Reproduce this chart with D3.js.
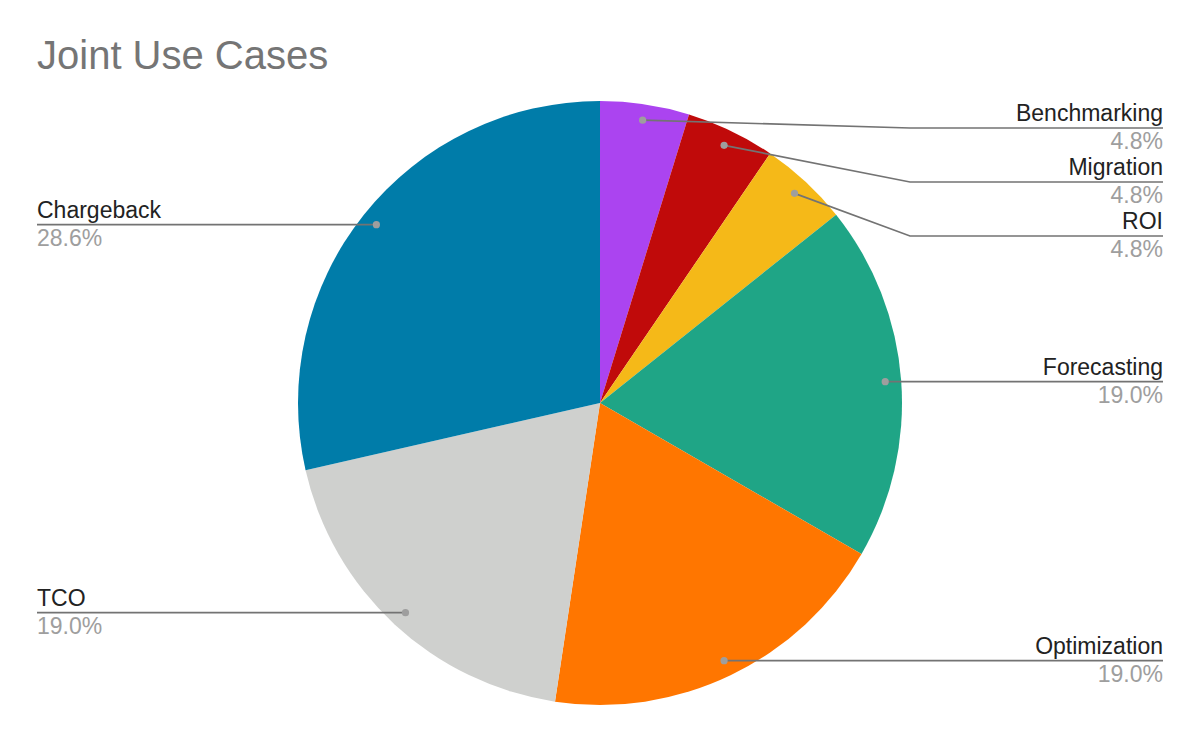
<!DOCTYPE html>
<html><head><meta charset="utf-8">
<script src="https://cdn.jsdelivr.net/npm/d3@7"></script>
<style>html,body{margin:0;padding:0;background:#fff;}svg{display:block;font-family:"Liberation Sans",Arial,sans-serif;}</style>
</head><body>
<svg id="chart" width="1200" height="742"></svg>
<script>
const title = "Joint Use Cases";
const categories = ["Benchmarking","Migration","ROI","Forecasting","Optimization","TCO","Chargeback"];
const values = [1,1,1,4,4,4,6];
const colors = ["#ab44f0","#c00a0a","#f5b918","#1fa586","#ff7600","#cfd0ce","#007ca9"];

const W = 1200, H = 742;
const cx = 600, cy = 403, R = 302;
const svg = d3.select("#chart");

svg.append("text").attr("x", 37).attr("y", 69)
  .attr("font-size", 40).attr("fill", "#757575").text(title);

const data = categories.map((c,i)=>({name:c, value:values[i], color:colors[i]}));
const total = d3.sum(values);
const pie = d3.pie().value(d=>d.value).sort(null);
const arcs = pie(data);
const arc = d3.arc().innerRadius(0).outerRadius(R);

const g = svg.append("g").attr("transform", `translate(${cx},${cy})`);
g.selectAll("path").data(arcs).enter().append("path")
  .attr("d", arc).attr("fill", d=>d.data.color);

const fmt = d3.format(".1%");
const labelR = R * 0.947;
const items = arcs.map(a=>{
  const mid = (a.startAngle + a.endAngle)/2;
  const x = cx + labelR*Math.sin(mid);
  const y = cy - labelR*Math.cos(mid);
  return {a, name:a.data.name, pct:a.data.value/total, x, y, right: mid < Math.PI, ly: y};
});

// layout right-side labels: top limit and minimum spacing
const minGap = 54, topLimit = 128;
let prev = -Infinity;
items.filter(d=>d.right).sort((p,q)=>p.y-q.y).forEach(d=>{
  d.ly = Math.max(d.y, topLimit, prev + minGap);
  prev = d.ly;
});

const rightX = 1163, leftX = 37, elbowX = cx + R + 8;
const lg = svg.append("g");
items.forEach(d=>{
  let pts;
  if (d.right) {
    pts = Math.abs(d.ly - d.y) > 0.5 ? [[d.x,d.y],[elbowX,d.ly],[rightX,d.ly]] : [[d.x,d.y],[rightX,d.ly]];
  } else {
    pts = [[d.x,d.y],[leftX,d.ly]];
  }
  lg.append("path").attr("d", d3.line()(pts))
    .attr("fill","none").attr("stroke","#737373").attr("stroke-width",1.7);
  lg.append("circle").attr("cx", d.x).attr("cy", d.y).attr("r", 3.6).attr("fill","#9e9e9e");
  const tx = d.right ? rightX : leftX;
  const anchor = d.right ? "end" : "start";
  lg.append("text").attr("x", tx).attr("y", d.ly - 7).attr("text-anchor", anchor)
    .attr("font-size", 23).attr("fill", "#222").text(d.name);
  lg.append("text").attr("x", tx).attr("y", d.ly + 21).attr("text-anchor", anchor)
    .attr("font-size", 23).attr("fill", "#9e9e9e").text(fmt(d.pct));
});
</script>
</body></html>
